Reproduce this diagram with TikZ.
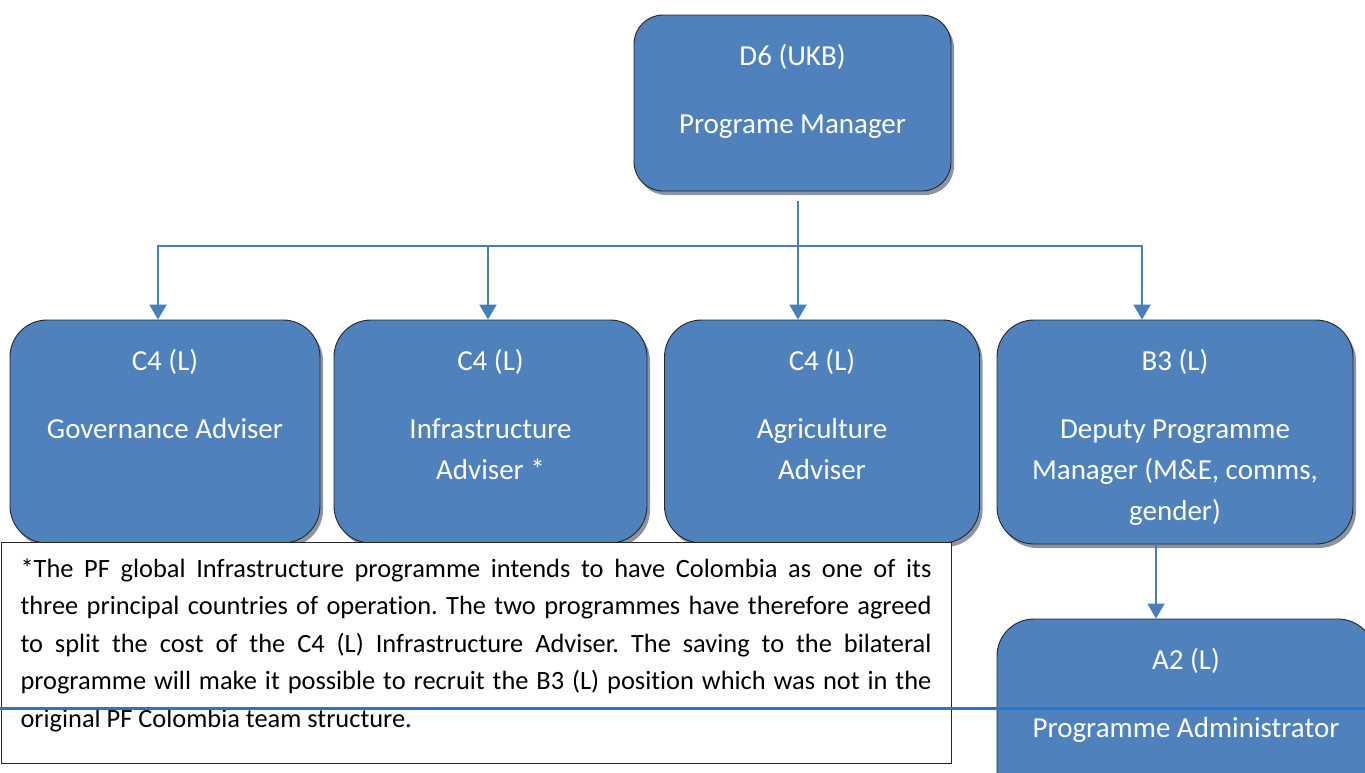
\documentclass[tikz,border=0pt]{standalone}
\usepackage{fontspec}
\setmainfont[Ligatures={NoCommon}]{Carlito}
\usepackage{tikz}
\usetikzlibrary{arrows.meta,shadows,calc,positioning}
\definecolor{boxblue}{RGB}{79,129,189}
\definecolor{linkblue}{RGB}{74,126,187}
\definecolor{ruleblue}{RGB}{46,116,197}
\definecolor{shadowgrey}{RGB}{138,148,163}
\frenchspacing

% text of one post: width, height, grade, title
\newcommand{\postbody}[4]{\parbox[t][#2][t]{#1}{\centering\fontsize{29}{41}\selectfont\rule{0pt}{50pt}#3\\[27pt]#4}}

\begin{document}
\begin{tikzpicture}[x=1pt,y=-1pt]
          \useasboundingbox (0,0) rectangle (1365,772);
          \clip (0,0) rectangle (1365,772);
          \tikzstyle{every node}=[inner sep=0pt]
          \tikzstyle{post}=[draw=black!85, line width=0.9pt, fill=boxblue, text=white, rounded corners=37pt,
                            drop shadow={shadow xshift=3pt, shadow yshift=-4pt, fill=shadowgrey, opacity=1}]
          \tikzstyle{link}=[draw=linkblue, line width=2pt]
          \tikzstyle{arr}=[link, -{Triangle[width=17pt,length=15pt]}]

          % Upper level
          \node[post, rounded corners=29pt] (pm) at (792.5,103) {\postbody{317pt}{176pt}{D6 (UKB)}{Programe Manager}};

          % Lower level
          \node[post] (gov) at (165,431.5) {\postbody{310pt}{223pt}{C4 (L)}{Governance Adviser}};
          \node[post] (inf) at (490.5,431.5) {\postbody{313pt}{223pt}{C4 (L)}{Infrastructure\\Adviser *}};
          \node[post] (agr) at (822,431.5) {\postbody{315pt}{223pt}{C4 (L)}{Agriculture\\Adviser}};
          \node[post] (dep) at (1175,432) {\postbody{356pt}{224pt}{B3 (L)}{Deputy Programme\\Manager (M\&E, comms,\\gender)}};

          % Bottom post
          \node[post] (adm) at (1186,730.5) {\postbody{378pt}{223pt}{A2 (L)}{Programme Administrator}};

          % reporting lines
          \coordinate (hub) at (798,246);
          \coordinate (b1) at (158,246);
          \coordinate (b2) at (488,246);
          \coordinate (b4) at (1142,246);
          \coordinate (drop) at (1156,600);
          \draw[link, shorten <=10pt] (pm.south -| hub) -- (hub);
          \draw[arr] (hub) -| (b1 |- gov.north);
          \draw[arr] (hub) -| (b4 |- dep.north);
          \draw[arr] (b2) -- (b2 |- inf.north);
          \draw[arr] (hub) -- (hub |- agr.north);
          \draw[arr] (drop |- dep.south) -- (drop |- adm.north);

          % footnote box
          \node[draw=black!85, line width=0.9pt, fill=white, inner xsep=19.5pt] (note) at (476,652.5)
            {\parbox[t][221pt][t]{911pt}{\fontsize{26.4}{37.5}\selectfont\hyphenpenalty=10000 \tolerance=9999
             \rule{0pt}{35pt}*The PF global Infrastructure programme intends to have Colombia as one of its\linebreak
             three principal countries of operation. The two programmes have therefore agreed\linebreak
             to split the cost of the C4 (L) Infrastructure Adviser. The saving to the bilateral\linebreak
             programme will make it possible to recruit the B3 (L) position which was not in the\linebreak
             original PF Colombia team structure.}};

          % stray rule across the page
          \coordinate (ruleW) at (0,708);
          \coordinate (ruleE) at (1365,708);
          \draw[ruleblue, line width=3pt] (ruleW) -- (ruleE);
\end{tikzpicture}
\end{document}
